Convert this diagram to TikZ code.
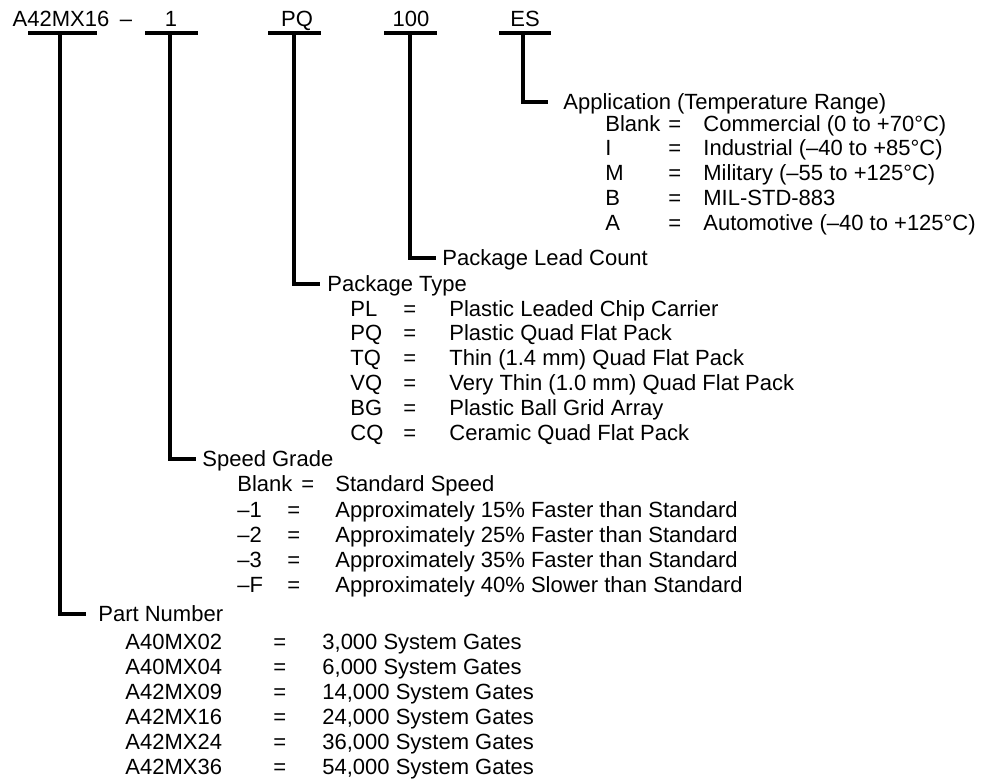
\documentclass[tikz,border=0pt]{standalone}
\usepackage{fontspec}
\setmainfont{Liberation Sans}
\usetikzlibrary{positioning}
\tikzset{x=0.5pt, y=-0.5pt,
  every node/.style={font=\fontsize{11}{13}\selectfont, inner sep=0pt, text height=7.9pt, text depth=0pt},
  code/.style={anchor=base},
  entry/.style={anchor=west},
  bar/.style={line width=2pt},
  tree/.style={line width=1.6pt}}

\begin{document}
\begin{tikzpicture}
  \useasboundingbox (0,0) rectangle (989,780);
  \node[code] (pn) at (61,27) {A42MX16};
  \node[code] (dash) at (126,27) {–};
  \node[code] (sg) at (171,27) {1};
  \node[code] (pt) at (297,27) {PQ};
  \node[code] (plc) at (411,27) {100};
  \node[code] (app) at (525,27) {ES};
  \draw[bar] ( 28,33) -- ( 97,33);
  \draw[bar] (145,33) -- (198,33);
  \draw[bar] (268,33) -- (321,33);
  \draw[bar] (384,33) -- (437,33);
  \draw[bar] (499,33) -- (551,33);
  \coordinate (pn-root)  at ( 60,33);
  \coordinate (sg-root)  at (170,33);
  \coordinate (pt-root)  at (294,33);
  \coordinate (plc-root) at (410,33);
  \coordinate (app-root) at (523,33);

  \node[entry] (app-label) at (563,102) {Application (Temperature Range)};
  \draw[tree] (app-root) |- ([xshift=-7.5pt]app-label.west);
  \foreach \c/\v/\y [count=\i] in {Blank/Commercial (0 to +70°C)/124,
      I/Industrial (–40 to +85°C)/148, M/Military (–55 to +125°C)/173,
      B/MIL-STD-883/198, A/Automotive (–40 to +125°C)/223} {
    \node[entry] (app-c\i) at (605,\y) {\c};
    \node[entry] (app-e\i) at (668,\y) {=};
    \node[entry] (app-v\i) at (703,\y) {\v};
  }

  \node[entry] (plc-label) at (442,258) {Package Lead Count};
  \draw[tree] (plc-root) |- ([xshift=-3pt]plc-label.west);

  \node[entry] (pt-label) at (327,284) {Package Type};
  \draw[tree] (pt-root) |- ([xshift=-3.5pt]pt-label.west);
  \foreach \c/\v/\y [count=\i] in {PL/Plastic Leaded Chip Carrier/309,
      PQ/Plastic Quad Flat Pack/333, TQ/Thin (1.4 mm) Quad Flat Pack/358,
      VQ/Very Thin (1.0 mm) Quad Flat Pack/383, BG/Plastic Ball Grid Array/408,
      CQ/Ceramic Quad Flat Pack/433} {
    \node[entry] (pt-c\i) at (350,\y) {\c};
    \node[entry] (pt-e\i) at (403,\y) {=};
    \node[entry] (pt-v\i) at (449,\y) {\v};
  }

  \node[entry] (sg-label) at (202,459) {Speed Grade};
  \draw[tree] (sg-root) |- ([xshift=-3pt]sg-label.west);
  \node[entry] (sg-c0) at (237,484) {Blank};
  \node[entry] (sg-e0) at (301,484) {=};
  \node[entry] (sg-v0) at (335,484) {Standard Speed};
  \foreach \c/\v/\y [count=\i] in {–1/Approximately 15\% Faster than Standard/510,
      –2/Approximately 25\% Faster than Standard/535,
      –3/Approximately 35\% Faster than Standard/560,
      –F/Approximately 40\% Slower than Standard/585} {
    \node[entry] (sg-c\i) at (237,\y) {\c};
    \node[entry] (sg-e\i) at (287,\y) {=};
    \node[entry] (sg-v\i) at (335,\y) {\v};
  }

  \node[entry] (pn-label) at (98,614) {Part Number};
  \draw[tree] (pn-root) |- ([xshift=-6pt]pn-label.west);
  \foreach \c/\v/\y [count=\i] in {A40MX02/{3,000 System Gates}/642,
      A40MX04/{6,000 System Gates}/667, A42MX09/{14,000 System Gates}/692,
      A42MX16/{24,000 System Gates}/717, A42MX24/{36,000 System Gates}/742,
      A42MX36/{54,000 System Gates}/767} {
    \node[entry] (pn-c\i) at (125,\y) {\c};
    \node[entry] (pn-e\i) at (273,\y) {=};
    \node[entry] (pn-v\i) at (322,\y) {\v};
  }
\end{tikzpicture}
\end{document}
